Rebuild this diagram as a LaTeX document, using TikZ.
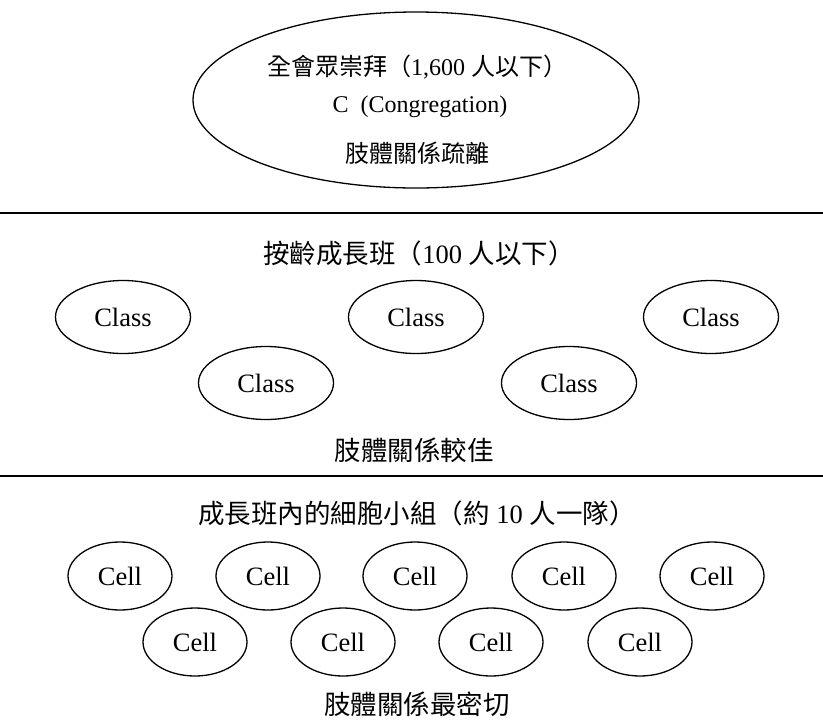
\documentclass[tikz,border=0pt]{standalone}
\usepackage{fontspec}
\setmainfont{Liberation Serif}
\newfontfamily\cjk{Noto Sans CJK TC}
\usetikzlibrary{shapes.geometric}
\newcommand{\zh}[1]{{\cjk #1}}

\begin{document}
\begin{tikzpicture}[x=1pt, y=-1pt,
  every node/.style={font={\fontsize{26.5}{30}\selectfont}, inner sep=0pt},
  small/.style={font={\fontsize{24}{28}\selectfont}},
  rule/.style={draw=black, line width=1.6pt},
  congr/.style={ellipse, draw=black, line width=1.3pt, minimum width=446pt, minimum height=176pt},
  group/.style={ellipse, draw=black, line width=1.3pt, minimum width=135pt, minimum height=73pt},
  cell/.style={ellipse, draw=black, line width=1.3pt, minimum width=104pt, minimum height=68pt}]
\useasboundingbox (0,0) rectangle (823,721);
% congregation
\node[congr] (congregation) at (416,100) {};
\node[small] (worship) at (417,67) {\zh{全會眾崇拜（}1,600 \zh{人以下）}};
\node[small] (cname) at (420,107) {C\enspace(Congregation)};
\node[small] (distant) at (417,153) {\zh{肢體關係疏離}};
\coordinate (rulea) at (0,213);
\coordinate (ruleb) at (823,213);
\draw[rule] (rulea) -- (ruleb);
% classes
\node (classtitle) at (419,253) {\zh{按齡成長班（}100 \zh{人以下）}};
\foreach \x/\y [count=\i] in {123/317, 416/317, 711/317, 266/383, 569/383}
  \node[group] (class\i) at (\x,\y) {Class};
\node (better) at (414,450) {\zh{肢體關係較佳}};
\coordinate (rulec) at (0,476);
\coordinate (ruled) at (823,476);
\draw[rule] (rulec) -- (ruled);
% cells
\node (celltitle) at (417,513) {\zh{成長班內的細胞小組（約} 10 \zh{人一隊）}};
\foreach \x [count=\i] in {120,268,415,564,712}
  \node[cell] (cell\i) at (\x,576) {Cell};
\foreach \x [count=\i from 6] in {195,343,491,640}
  \node[cell] (cell\i) at (\x,642) {Cell};
\node (closest) at (417,704) {\zh{肢體關係最密切}};
\end{tikzpicture}
\end{document}
